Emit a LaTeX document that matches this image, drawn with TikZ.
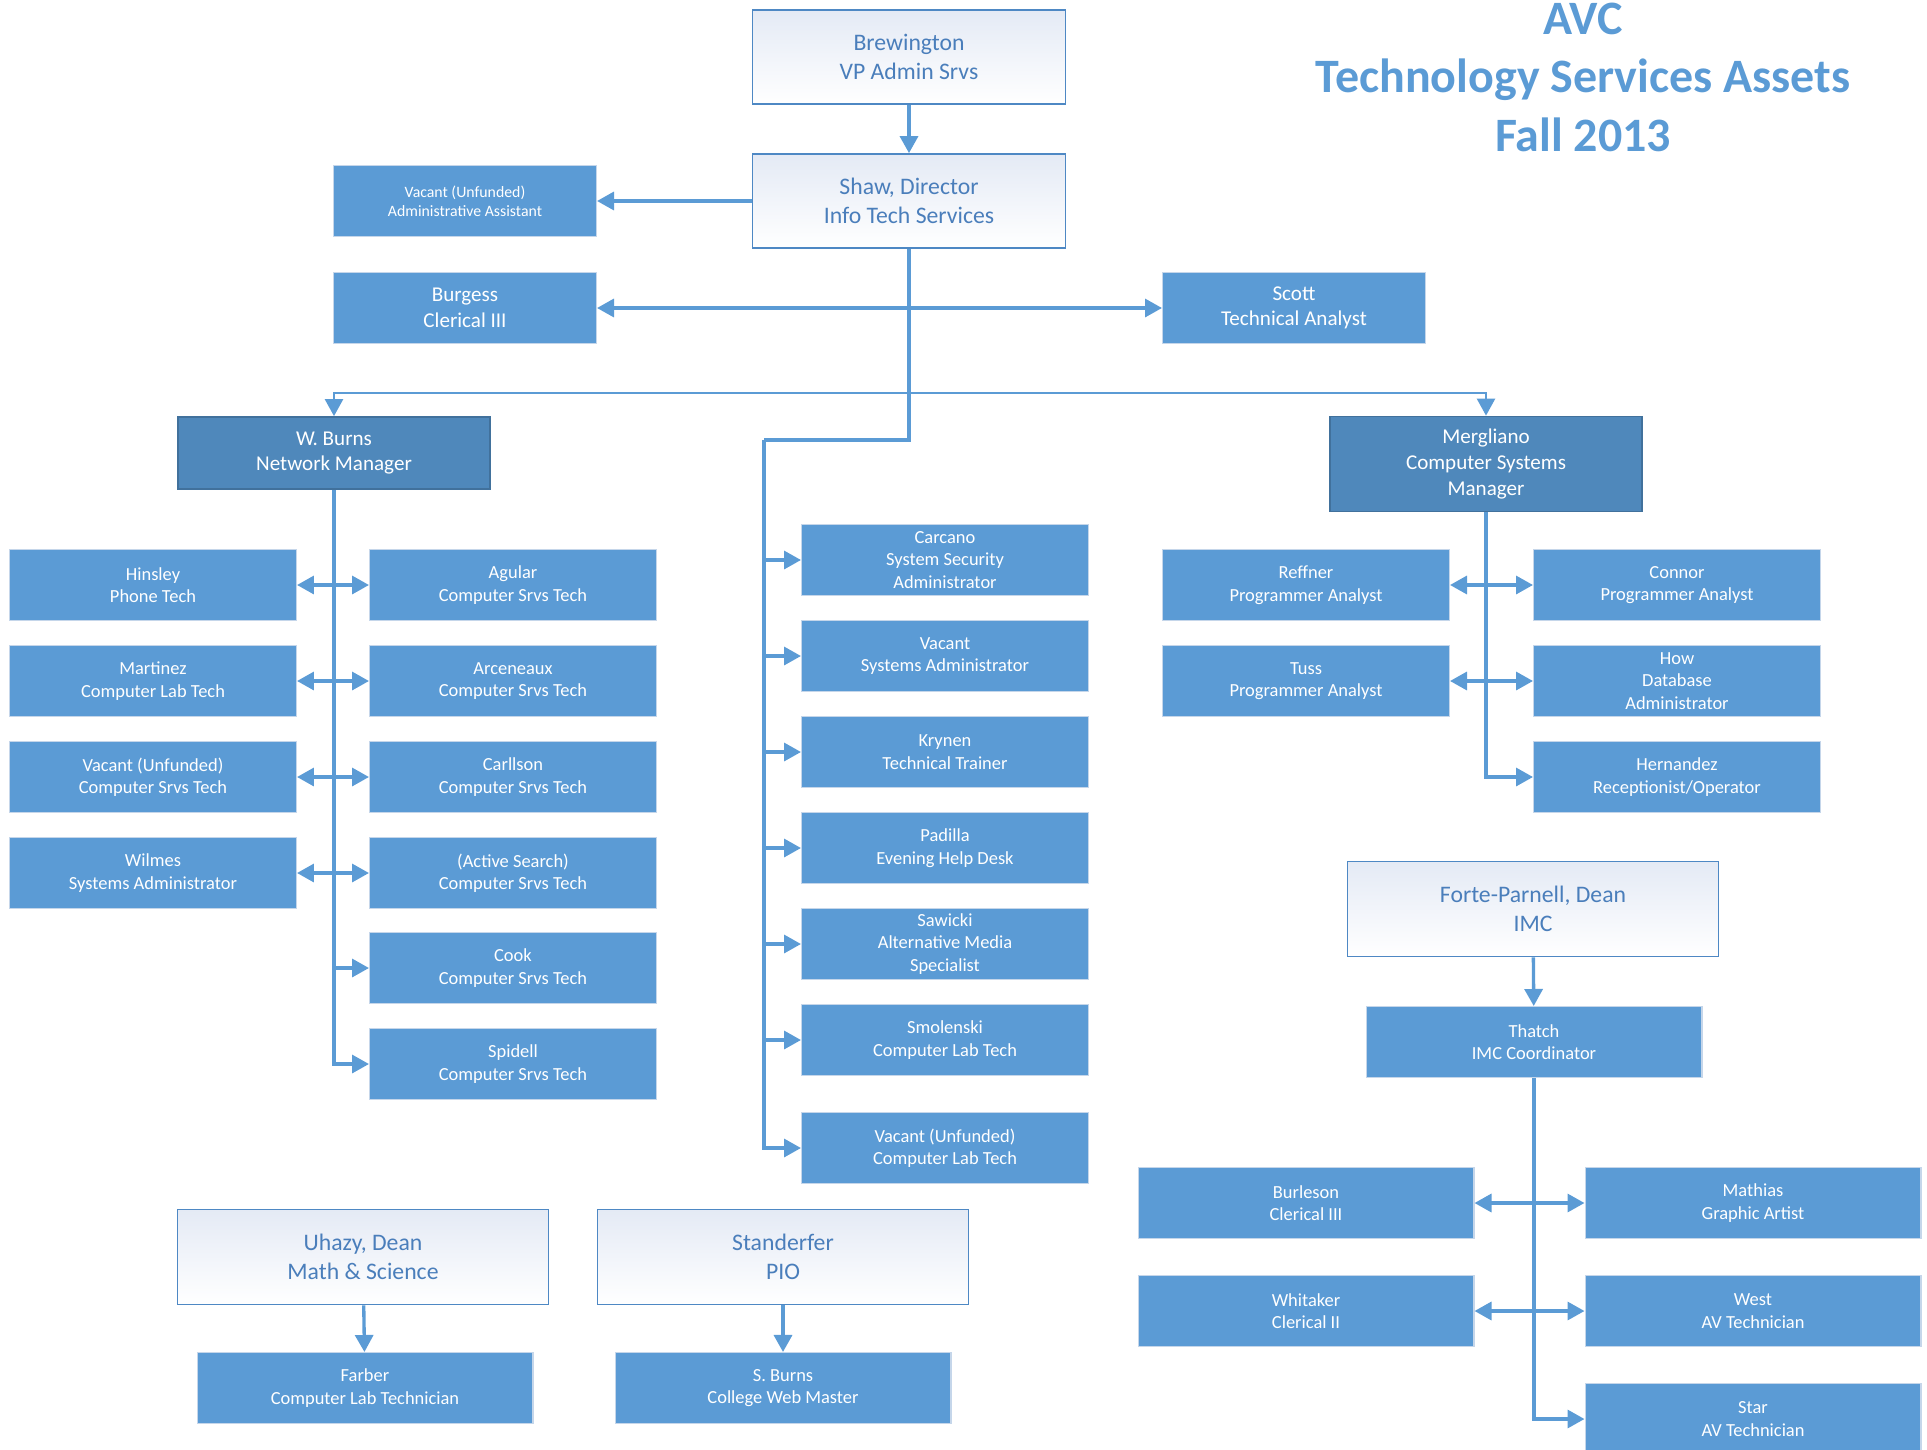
\documentclass[tikz,border=0pt]{standalone}
\usepackage{fontspec}
\setmainfont{Carlito}
\usetikzlibrary{arrows.meta}
\definecolor{boxblue}{HTML}{5B9BD5}
\definecolor{mgrblue}{HTML}{4F88BB}
\definecolor{mgredge}{HTML}{41719C}
\definecolor{headedge}{HTML}{4E88C4}
\definecolor{headtext}{HTML}{4A7EBB}
\definecolor{headtop}{HTML}{E4EAF5}
\definecolor{leafedge}{HTML}{C5D6EA}

\begin{document}
\begin{tikzpicture}[x=0.02cm, y=-0.02cm,
  leaf/.style={fill=boxblue, draw=leafedge, line width=0.6pt, text=white, inner sep=0pt, align=center,
    minimum width=5.74cm, minimum height=1.42cm, font=\fontsize{10.5}{12.8}\selectfont},
  mid/.style={leaf, minimum width=5.26cm, font=\fontsize{12}{14.6}\selectfont},
  wide/.style={leaf, minimum width=6.72cm},
  mgr/.style={leaf, fill=mgrblue, draw=mgredge, line width=1pt, minimum width=6.24cm, minimum height=1.44cm,
    font=\fontsize{12}{14.6}\selectfont},
  head/.style={top color=headtop, bottom color=white, draw=headedge, line width=1pt, text=headtext,
    inner sep=0pt, align=center, minimum width=6.26cm, minimum height=1.88cm, font=\fontsize{13.5}{16.8}\selectfont},
  dean/.style={head, minimum width=7.42cm, minimum height=1.9cm},
  link/.style={color=boxblue, line width=1.9pt},
  arr/.style={-{Triangle[length=0.34cm,width=0.36cm]}},
  dblarr/.style={{Triangle[length=0.34cm,width=0.36cm]}-{Triangle[length=0.34cm,width=0.36cm]}}
]
\useasboundingbox (0,0) rectangle (1927,1450);

% title
\node[text=boxblue, align=center, font=\bfseries\fontsize{27.3}{33.3}\selectfont] (ttl) at (1583,77)
  {AVC\\Technology Services Assets\\Fall 2013};

% top of the chart
\node[head] (brew) at (909,57) {Brewington\\VP Admin Srvs};
\node[head] (shaw) at (909,201) {Shaw, Director\\Info Tech Services};
\node[mid, font=\fontsize{9}{11}\selectfont] (admin) at (465,201) {Vacant (Unfunded)\\Administrative Assistant};
\node[mid] (burg) at (465,308) {Burgess\\Clerical III};
\node[mid] (scott) at (1294,308) {Scott\\Technical Analyst};

% managers
\node[mgr] (wb) at (334,453) {W. Burns\\Network Manager};
\node[mgr, minimum height=1.9cm] (mer) at (1486,464) {Mergliano\\Computer Systems\\Manager};

% network group
\foreach \i/\y/\txt in {1/585/{Hinsley\\Phone Tech}, 2/681/{Martinez\\Computer Lab Tech},
    3/777/{Vacant (Unfunded)\\Computer Srvs Tech}, 4/873/{Wilmes\\Systems Administrator}}
  \node[leaf] (NL\i) at (153,\y) {\txt};
\foreach \i/\y/\txt in {1/585/{Agular}, 2/681/{Arceneaux}, 3/777/{Carllson},
    4/873/{(Active Search)}, 5/968/{Cook}, 6/1064/{Spidell}}
  \node[leaf] (NR\i) at (513,\y) {\txt\\Computer Srvs Tech};

% center column
\foreach \i/\y/\txt in {1/560/{Carcano\\System Security\\Administrator}, 2/656/{Vacant\\Systems Administrator},
    3/752/{Krynen\\Technical Trainer}, 4/848/{Padilla\\Evening Help Desk},
    5/944/{Sawicki\\Alternative Media\\Specialist}, 6/1040/{Smolenski\\Computer Lab Tech},
    7/1148/{Vacant (Unfunded)\\Computer Lab Tech}}
  \node[leaf] (C\i) at (945,\y) {\txt};

% programmers
\node[leaf] (PL1) at (1306,585) {Reffner\\Programmer Analyst};
\node[leaf] (PL2) at (1306,681) {Tuss\\Programmer Analyst};
\node[leaf] (PR1) at (1677,585) {Connor\\Programmer Analyst};
\node[leaf] (PR2) at (1677,681) {How\\Database\\Administrator};
\node[leaf] (PR3) at (1677,777) {Hernandez\\Receptionist/Operator};

% IMC
\node[dean] (forte) at (1533,909) {Forte-Parnell, Dean\\IMC};
\node[wide] (thatch) at (1534,1042) {Thatch\\IMC Coordinator};
\node[wide] (IL1) at (1306,1203) {Burleson\\Clerical III};
\node[wide] (IL2) at (1306,1311) {Whitaker\\Clerical II};
\node[wide] (IR1) at (1753,1203) {Mathias\\Graphic Artist};
\node[wide] (IR2) at (1753,1311) {West\\AV Technician};
\node[wide] (IR3) at (1753,1419) {Star\\AV Technician};

% other deans
\node[dean] (uhazy) at (363,1257) {Uhazy, Dean\\Math \& Science};
\node[wide] (farber) at (365,1388) {Farber\\Computer Lab Technician};
\node[dean] (stand) at (783,1257) {Standerfer\\PIO};
\node[wide] (sburns) at (783,1388) {S. Burns\\College Web Master};

% connectors
\draw[link,arr] (brew) -- (shaw);
\draw[link,arr] (shaw) -- (admin);
\draw[link,dblarr] (burg) -- (scott);
\coordinate (bar) at (909,393);
\coordinate (J1) at (909,440);
\coordinate (J2) at (764,440);
\draw[link,arr,line width=1.4pt] (bar) -| (wb.north);
\draw[link,arr,line width=1.4pt] (bar) -| (mer.north);
\draw[link,line width=2.3pt] (shaw.south) -- (J1) -- (J2);
\draw[link,arr] (J2) |- (C7.west);
\foreach \i in {1,...,6}
  \draw[link,arr] (J2 |- C\i.west) -- (C\i.west);

\draw[link,arr] (wb.south) |- (NR6.west);
\foreach \i in {1,...,4}
  \draw[link,dblarr] (NL\i.east) -- (NR\i.west);
\draw[link,arr] (wb.south |- NR5.west) -- (NR5.west);

\draw[link,arr] (mer.south) |- (PR3.west);
\foreach \i in {1,2}
  \draw[link,dblarr] (PL\i.east) -- (PR\i.west);

\draw[link,arr] (forte) -- (thatch);
\draw[link,arr] (thatch.south) |- (IR3.west);
\foreach \i in {1,2}
  \draw[link,dblarr] (IL\i.east) -- (IR\i.west);

\draw[link,arr] (uhazy) -- (farber);
\draw[link,arr] (stand) -- (sburns);
\end{tikzpicture}
\end{document}
